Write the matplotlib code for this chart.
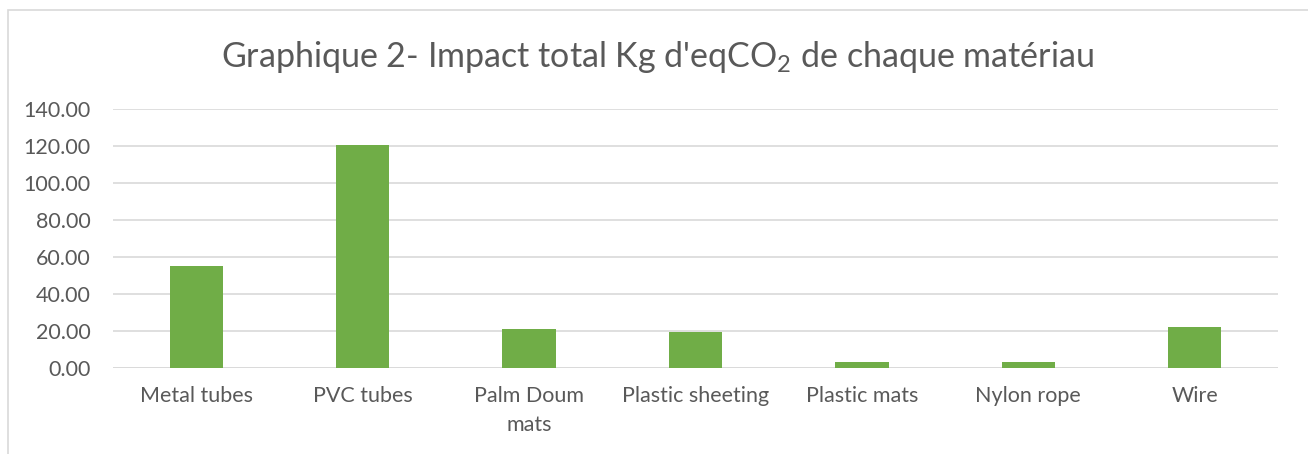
import matplotlib.pyplot as plt
import numpy as np
from matplotlib.patches import Rectangle

materials = ["Metal tubes", "PVC tubes", "Palm Doum\nmats", "Plastic sheeting",
             "Plastic mats", "Nylon rope", "Wire"]
impact = [55.1, 120.5, 21.1, 19.5, 3.1, 3.4, 22.3]
y_ticks = [0, 20, 40, 60, 80, 100, 120, 140]

plt.rcParams["font.family"] = ["Lato", "DejaVu Sans"]
text_color = "#595959"
grid_color = "#D9D9D9"

fig = plt.figure(figsize=(13.08, 4.54), dpi=100)
ax = fig.add_axes([0.0864, 0.1894, 0.8906, 0.5706])

# chart border
fig.patches.append(Rectangle((8 / 1308, -0.1), 1.1, (454 - 10) / 454 + 0.1,
                             transform=fig.transFigure, fill=False,
                             edgecolor=grid_color, linewidth=1.2))

x = np.arange(len(materials))
ax.bar(x, impact, width=0.32, color="#70AD47", zorder=3)

ax.set_xlim(-0.5, len(materials) - 0.5)
ax.set_ylim(0, 140)
ax.set_yticks(y_ticks)
ax.set_yticklabels([f"{v:.2f}" for v in y_ticks])
ax.set_xticks(x)
ax.set_xticklabels(materials, linespacing=1.55)
ax.yaxis.grid(True, color=grid_color, linewidth=1.2, zorder=0)
ax.tick_params(length=0, labelsize=15.5, colors=text_color)
ax.tick_params(axis="x", pad=13)
ax.tick_params(axis="y", pad=16)
for name, sp in ax.spines.items():
    sp.set_visible(False)
ax.axhline(0, color=grid_color, linewidth=1.2, zorder=2)

fig.text(0.503, 0.875, r"Graphique 2- Impact total Kg d'eqCO$_{\mathregular{2}}$ de chaque matériau",
         ha="center", va="center", fontsize=24.5, color=text_color)

fig.savefig("out.png", dpi=100)
